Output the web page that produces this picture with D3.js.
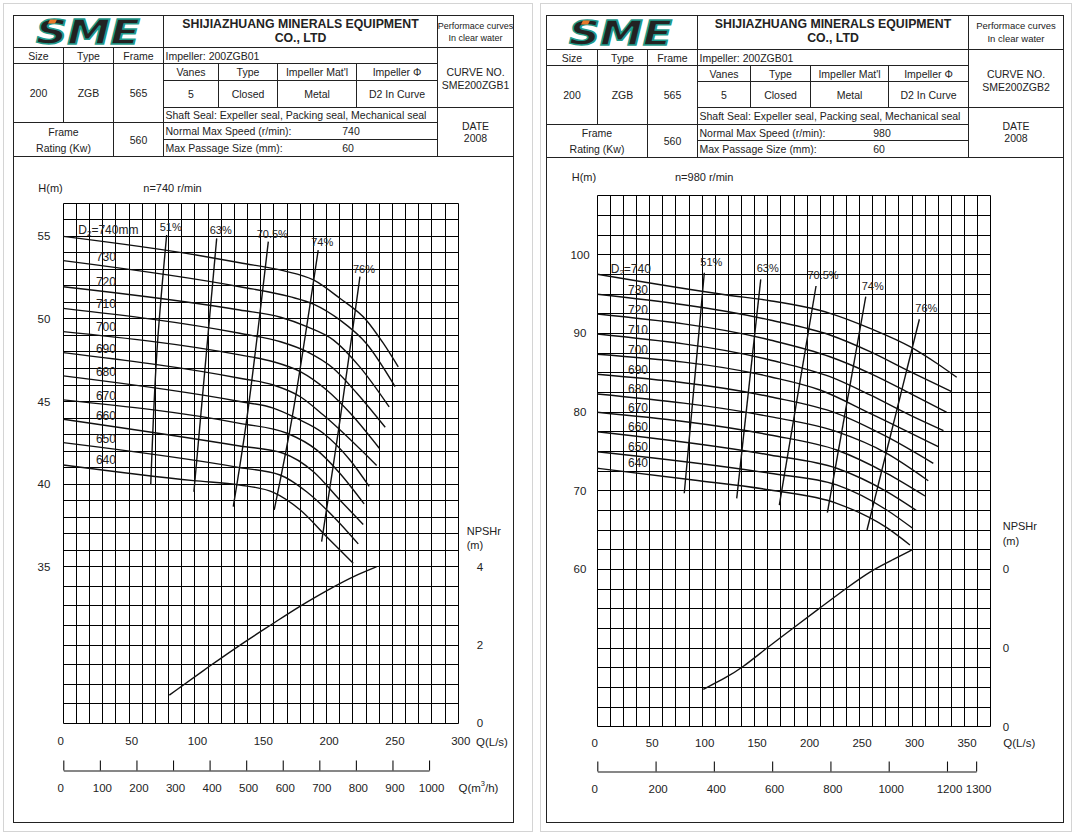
<!DOCTYPE html>
<html><head><meta charset="utf-8">
<script src="https://cdn.jsdelivr.net/npm/d3@7/dist/d3.min.js"></script>
<style>
html,body{margin:0;padding:0;background:#fff;}
svg{display:block;}
text{font-family:"Liberation Sans",Arial,Helvetica,sans-serif;fill:#222;}
</style></head><body>
<svg id="chart" width="1078" height="837"></svg>
<script>
// ---------------- header texts ----------------
const company = ["SHIJIAZHUANG MINERALS EQUIPMENT", "CO., LTD"];
const perfNote = ["Performace curves", "In clear water"];
const sizeHeads = ["Size", "Type", "Frame"];
const sizeVals = ["200", "ZGB", "565"];
const impellerId = "Impeller: 200ZGB01";
const impHeads = ["Vanes", "Type", "Impeller Mat'l", "Impeller \u03A6"];
const impVals = ["5", "Closed", "Metal", "D2 In Curve"];
const shaftSeal = "Shaft Seal: Expeller seal, Packing seal, Mechanical seal";
const frameRating = ["Frame", "Rating (Kw)"];
const frameRatingVal = "560";
const speedText = "Normal Max Speed (r/min):";
const passageText = "Max Passage Size (mm):";
const passageVal = "60";
const curveNos = ["SME200ZGB1", "SME200ZGB2"];
const speeds = ["740", "980"];
const dateVal = "2008";
const speedTitles = ["n=740 r/min", "n=980 r/min"];

// ---------------- shared ----------------
const diameters = [740, 730, 720, 710, 700, 690, 680, 670, 660, 650, 640];
const effLabels = ["51%", "63%", "70.5%", "74%", "76%"];

// ---------------- left chart (740 r/min) ----------------
const qTicksL = [0, 50, 100, 150, 200, 250, 300];
const qmTicksL = [0, 100, 200, 300, 400, 500, 600, 700, 800, 900, 1000];
const hTicksL = [35, 40, 45, 50, 55];
const npshTicksL = [0, 2, 4];
const npshTickLabelsL = ["0", "2", "4"];
const headCurvesL = [
  [[0,55],[101,53.87],[134,53.4],[167,52.92],[190,52.36],[210,51.25],[230,49.94],[243,48.53],[254.4,47.1]],
  [[0,53.53],[134,51.95],[172,51.35],[190,50.9],[210,49.94],[230,48.53],[252,45.9]],
  [[0,51.95],[134,50.54],[165,50.1],[185,49.53],[205,48.73],[225,47.11],[247.5,44.67]],
  [[0,50.64],[134,49.13],[165,48.62],[185,48.02],[205,47.01],[223,45.5],[238,44.08],[244.5,43.44]],
  [[0,49.23],[134,47.82],[159.5,47.41],[180,46.81],[200,45.7],[218,44.29],[240,42.17]],
  [[0,47.96],[134,46.41],[159.5,46.0],[180,45.29],[197.5,44.18],[238,41.13]],
  [[0,46.55],[134,45.0],[159.5,44.6],[177,43.99],[197.5,43.08],[217.7,41.46],[232.3,39.86]],
  [[0,45.1],[134,43.68],[170,43.08],[192.4,42.07],[210,40.66],[228.5,38.8]],
  [[0,43.93],[134,42.31],[167,41.87],[190,40.75],[210,39.04],[227.8,37.56]],
  [[0,42.51],[134,41.0],[164.6,40.55],[184.8,39.54],[207.6,37.83],[224,36.38]],
  [[0,41.16],[99,40.21],[134,39.95],[159.5,39.5],[180,38.43],[200,36.82],[220.2,35.21]]
];
const effLinesL = [
  [[78.5,55.08],[71,47.9],[66.4,39.95]],
  [[116.5,54.88],[99.2,39.54]],
  [[155.7,54.68],[139.3,43.9],[129.1,38.64]],
  [[193.6,54.17],[173.5,43.9],[160.2,38.44]],
  [[225.3,52.56],[210.2,43.9],[196.2,36.52]]
];
const npshL = [[80.5,0.72],[111.4,1.47],[136.7,2.06],[159.5,2.55],[179.7,3.0],[207.6,3.53],[220,3.75],[238,4.0]];

// ---------------- right chart (980 r/min) ----------------
const qTicksR = [0, 50, 100, 150, 200, 250, 300, 350];
const qmTicksR = [0, 200, 400, 600, 800, 1000, 1200, 1300];
const hTicksR = [60, 70, 80, 90, 100];
const npshTicksR = [0, 2, 4];
const npshTickLabelsR = ["0", "0", "0"];
const headCurvesR = [
  [[0,97.51],[123.4,94.88],[164.6,94.15],[221.8,92.55],[260,90.64],[298.1,88.31],[323.5,86.2],[342.6,84.42]],
  [[0,94.97],[164.6,91.7],[221.8,89.79],[260,87.67],[298.1,85.13],[337.8,82.59]],
  [[0,92.46],[164.6,89.16],[221.8,87.03],[260,84.92],[298.1,82.38],[333,79.97]],
  [[0,89.92],[164.6,86.62],[221.8,84.49],[260,82.17],[298.1,79.6],[330,77.63]],
  [[0,87.34],[164.6,84.49],[212.3,82.8],[260,79.84],[325,75.6]],
  [[0,84.8],[164.6,81.95],[228.2,79.84],[275.9,76.87],[320.3,73.48]],
  [[0,82.29],[164.6,79.41],[228.2,77.5],[275.9,74.75],[315.5,71.27]],
  [[0,79.97],[164.6,77.08],[228.2,75.17],[275.9,72.21],[312.4,69.33]],
  [[0,77.5],[164.6,74.54],[228.2,72.85],[275.9,69.88],[304,67.5]],
  [[0,74.96],[164.6,72.21],[228.2,70.73],[275.9,67.55],[300.6,65.22]],
  [[0,72.85],[91.5,71.36],[164.6,70.09],[228.2,68.4],[275.9,65.3],[298,63.1]]
];
const effLinesR = [
  [[102,97.71],[96.8,90.0],[82.9,69.67]],
  [[155.8,96.87],[132.9,69.03]],
  [[208.5,96.02],[173.5,68.18]],
  [[255.9,94.66],[219.3,67.2]],
  [[307,91.79],[257.1,65.0]]
];
const npshR = [[101,0.95],[123.4,1.26],[137.7,1.49],[161.5,2.0],[186.8,2.51],[212.3,3.02],[237.8,3.53],[261.6,3.98],[282.2,4.25],[300.3,4.5]];

// ---------------- drawing ----------------
const svg = d3.select("#chart");
svg.append("rect").attr("width", 1078).attr("height", 837).attr("fill", "#fff");
const snap = v => Math.round(v - 0.5) + 0.5;

function txt(g, s, x, y, o = {}) {
  return g.append("text").attr("x", x).attr("y", y)
    .attr("text-anchor", o.anchor || "middle")
    .attr("dominant-baseline", "central")
    .attr("font-size", o.size || 10.5)
    .attr("font-weight", o.bold ? "bold" : null)
    .attr("fill", o.fill || "#222")
    .text(s);
}

function interpH(pts, q) {
  for (let i = 0; i < pts.length - 1; i++) {
    const [q0, h0] = pts[i], [q1, h1] = pts[i + 1];
    if (q >= q0 && q <= q1) return h0 + (h1 - h0) * (q - q0) / (q1 - q0);
  }
  return pts[0][1];
}

function drawLogo(g, x, yb, w) {
  g.append("text").attr("x", x).attr("y", yb)
    .attr("font-size", 33).attr("font-weight", "bold").attr("font-style", "italic")
    .attr("textLength", w).attr("lengthAdjust", "spacingAndGlyphs")
    .attr("fill", "#1f9a8b").attr("stroke", "#1f9a8b").attr("stroke-width", 1.4)
    .style("font-family", "'DejaVu Sans', 'Liberation Sans', sans-serif")
    .text("SME");
  g.append("path")
    .attr("d", `M${x + 14},${yb - 24} l7,0 l-2,4 l-7,0 z`)
    .attr("fill", "#e8782a");
}

function drawPanel(c, idx) {
  const g = svg.append("g");
  g.append("rect").attr("x", c.card[0]).attr("y", c.card[1]).attr("width", c.card[2]).attr("height", c.card[3])
    .attr("fill", "none").attr("stroke", "#d4d4d4").attr("stroke-width", 1);
  const [x0, x1, x2, x3, x4, x5, x6, x7, x8] = c.cols.map(snap);
  const [y0, y1, y2, y3, y4, y5, y6, y7] = c.rows.map(snap);
  const lg = g.append("g").attr("stroke", "#222").attr("stroke-width", 1);
  const L = (a, b, cc, d) => lg.append("line").attr("x1", a).attr("y1", b).attr("x2", cc).attr("y2", d);
  lg.append("rect").attr("x", x0).attr("y", y0).attr("width", x8 - x0).attr("height", snap(c.frameBottom) - y0).attr("fill", "none");
  L(x0, y1, x8, y1); L(x0, y2, x7, y2); L(x3, y3, x7, y3); L(x3, y4, x8, y4);
  L(x0, y5, x7, y5); L(x3, y6, x7, y6); L(x0, y7, x8, y7);
  L(x1, y1, x1, y5); L(x2, y1, x2, y7); L(x3, y0, x3, y7);
  L(x4, y2, x4, y4); L(x5, y2, x5, y4); L(x6, y2, x6, y4); L(x7, y0, x7, y7);

  drawLogo(g, c.logo[0], c.logo[1], c.logo[2]);
  const tc = (x3 + x7) / 2;
  txt(g, company[0], tc, y0 + 8, { size: 12.3, bold: true });
  txt(g, company[1], tc, y0 + 22.5, { size: 12.3, bold: true });
  const pc = (x7 + x8) / 2;
  txt(g, perfNote[0], pc, y0 + 10, { size: c.perfSize });
  txt(g, perfNote[1], pc, y0 + 22.5, { size: c.perfSize });
  [x0, x1, x2].forEach((xx, i) => {
    const nx = [x1, x2, x3][i];
    txt(g, sizeHeads[i], (xx + nx) / 2, (y1 + y2) / 2);
    txt(g, sizeVals[i], (xx + nx) / 2, (y2 + y5) / 2);
  });
  txt(g, impellerId, x3 + 2, (y1 + y2) / 2, { anchor: "start" });
  [x3, x4, x5, x6].forEach((xx, i) => {
    const nx = [x4, x5, x6, x7][i];
    txt(g, impHeads[i], (xx + nx) / 2, (y2 + y3) / 2);
    txt(g, impVals[i], (xx + nx) / 2, (y3 + y4) / 2);
  });
  txt(g, shaftSeal, x3 + 2, (y4 + y5) / 2, { anchor: "start", size: 10.5 });
  txt(g, frameRating[0], (x0 + x2) / 2, (y5 + y7) / 2 - 8);
  txt(g, frameRating[1], (x0 + x2) / 2, (y5 + y7) / 2 + 8);
  txt(g, frameRatingVal, (x2 + x3) / 2, (y5 + y7) / 2);
  txt(g, speedText, x3 + 2, (y5 + y6) / 2, { anchor: "start" });
  txt(g, speeds[idx], c.valX, (y5 + y6) / 2);
  txt(g, passageText, x3 + 2, (y6 + y7) / 2, { anchor: "start" });
  txt(g, passageVal, c.valX - 3, (y6 + y7) / 2);
  txt(g, "CURVE NO.", pc, y1 + 24, { size: 10.5 });
  txt(g, curveNos[idx], pc, y1 + 37, { size: 10.5 });
  txt(g, "DATE", pc, y4 + 18, { size: 10.5 });
  txt(g, dateVal, pc, y4 + 30.5, { size: 10.5 });

  // ---------- chart ----------
  const x = c.x, h = c.h, n = c.n;
  const grid = g.append("g").attr("stroke", "#000").attr("stroke-width", 1);
  const [px0, px1] = x.range().map(snap);
  const yT = snap(c.yTop), yB = snap(c.yBot);
  c.vGrid.forEach(v => grid.append("line").attr("x1", snap(x(v))).attr("x2", snap(x(v))).attr("y1", yT).attr("y2", yB));
  c.hGridH.forEach(v => grid.append("line").attr("x1", px0).attr("x2", px1).attr("y1", snap(h(v))).attr("y2", snap(h(v))));
  c.hGridN.forEach(v => grid.append("line").attr("x1", px0).attr("x2", px1).attr("y1", snap(n(v))).attr("y2", snap(n(v))));

  const lineH = d3.line().x(d => x(d[0])).y(d => h(d[1])).curve(d3.curveMonotoneX);
  const lineE = d3.line().x(d => x(d[0])).y(d => h(d[1])).curve(d3.curveCatmullRom.alpha(0.5));
  const lineN = d3.line().x(d => x(d[0])).y(d => n(d[1])).curve(d3.curveBasis);
  const cg = g.append("g").attr("fill", "none").attr("stroke", "#111").attr("stroke-width", 1.4);
  cg.selectAll("path.head").data(c.curves).join("path").attr("class", "head").attr("d", lineH);
  cg.selectAll("path.eff").data(c.eff).join("path").attr("class", "eff").attr("d", lineE);
  cg.append("path").datum(c.npsh).attr("d", lineN);

  // diameter labels
  c.curves.forEach((pts, i) => {
    const yy = h(interpH(pts, c.labelQ)) - 10;
    if (i === 0) {
      const t = g.append("text").attr("x", x(c.d2Q)).attr("y", h(interpH(pts, c.d2Q + 18)) - c.d2Lift)
        .attr("dominant-baseline", "central").attr("font-size", 12).attr("fill", "#333");
      t.append("tspan").text("D");
      t.append("tspan").attr("font-size", 8).attr("dy", 3).text("2");
      t.append("tspan").attr("dy", -3).text("=" + diameters[i] + c.d2Unit);
    } else {
      txt(g, String(diameters[i]), x(c.labelQ), yy, { size: 12, fill: "#333" });
    }
  });
  // efficiency labels
  c.eff.forEach((pts, i) => {
    txt(g, effLabels[i], x(pts[0][0]) + c.effDx, h(pts[0][1]) + c.effDy, { size: 11, fill: "#333" });
  });

  // Q (L/s) axis labels
  const ax = g.append("g").attr("transform", `translate(0,${c.yBot})`)
    .call(d3.axisBottom(x).tickValues(c.qTicks).tickSize(0).tickPadding(c.qPad).tickFormat(d3.format("d")));
  ax.select(".domain").remove();
  ax.selectAll("text").attr("font-size", 11.5).attr("fill", "#222")
    .style("font-family", "'Liberation Sans', Arial, sans-serif")
    .attr("dx", d => d === 0 ? -3 : 2);
  txt(g, "Q(L/s)", c.qLabel[0], c.qLabel[1], { anchor: "start", size: 11.5 });

  // Q (m3/h) axis
  const am = g.append("g").attr("transform", `translate(0,${snap(c.qmY)})`)
    .call(d3.axisBottom(c.xm).tickValues(c.qmTicks).tickSizeInner(-10).tickSizeOuter(0).tickPadding(13).tickFormat(d3.format("d")));
  am.selectAll("line,path").attr("stroke", "#111").attr("stroke-width", 1.1);
  am.selectAll("text").attr("font-size", 11.5).attr("fill", "#222")
    .style("font-family", "'Liberation Sans', Arial, sans-serif")
    .attr("dx", d => d === 0 ? -3 : 2);
  if (c.qmLabel) {
    const t = g.append("text").attr("x", c.qmLabel[0]).attr("y", c.qmLabel[1])
      .attr("dominant-baseline", "central").attr("font-size", 11.5);
    t.append("tspan").text("Q(m");
    t.append("tspan").attr("font-size", 7.5).attr("dy", -5).text("3");
    t.append("tspan").attr("dy", 5).text("/h)");
  }

  // H axis labels
  c.hTicks.forEach(v => txt(g, String(v), c.hLabelX, h(v), { size: 11.5 }));
  txt(g, "H(m)", c.hTitle[0], c.hTitle[1], { anchor: "start", size: 11 });
  txt(g, speedTitles[idx], c.nTitle[0], c.hTitle[1], { anchor: "start", size: 11 });

  // NPSH labels
  c.nTicks.forEach((v, i) => txt(g, c.nTickLabels[i], c.nLabelX, n(v), { size: 11.5 }));
  txt(g, "NPSHr", c.npshTitle[0], c.npshTitle[1], { anchor: "start", size: 11 });
  txt(g, "(m)", c.npshTitle[0], c.npshTitle[1] + 14.5, { anchor: "start", size: 11 });
}

// ----- scales / layout -----
const xL = d3.scaleLinear().domain([0, 300]).range([63.3, 458.3]);
const hL = d3.scaleLinear().domain([35, 57]).range([566.7, 203.3]);
const nL = d3.scaleLinear().domain([0, 4]).range([723.3, 566.7]);
const xmL = d3.scaleLinear().domain([0, 1000]).range([xL(0), xL(1000 / 3.6)]);

const xR = d3.scaleLinear().domain([0, 375]).range([597.3, 990.7]);
const hR = d3.scaleLinear().domain([40, 107.5]).range([726.7, 195.7]);
const nR = d3.scaleLinear().domain([0, 4]).range([726.7, hR(60)]);
const xmR = d3.scaleLinear().domain([0, 1300]).range([xR(0), xR(1300 / 3.6)]);

drawPanel({
  card: [3.5, 3.5, 529, 828],
  cols: [13.5, 63, 113, 163, 218, 277, 356, 437, 513.5],
  rows: [15, 47.3, 63.3, 80, 107.3, 122.7, 139.3, 156],
  frameBottom: 822, perfSize: 9,
  logo: [36, 43.5, 104], valX: 351,
  x: xL, h: hL, n: nL, xm: xmL,
  yTop: 203.3, yBot: 723.3,
  vGrid: d3.range(0, 300.1, 10), hGridH: d3.range(35, 57.1, 1), hGridN: d3.range(0, 3.9, 0.5),
  curves: headCurvesL, eff: effLinesL, npsh: npshL,
  labelQ: 32.4, d2Q: 11.4, d2Lift: 12, d2Unit: "mm", effDx: 4, effDy: -8,
  qTicks: qTicksL, qPad: 14, qLabel: [476, 742],
  qmTicks: qmTicksL, qmY: 770, qmLabel: [458.5, 788.3],
  hTicks: hTicksL, hLabelX: 44, hTitle: [38.3, 188.3], nTitle: [143.3],
  nTicks: npshTicksL, nTickLabels: npshTickLabelsL, nLabelX: 480, npshTitle: [466.7, 530.7]
}, 0);

drawPanel({
  card: [540.5, 3.5, 531, 828],
  cols: [546, 597.4, 647.9, 697.6, 750.8, 810.2, 888, 968, 1063],
  rows: [15, 49.3, 65, 81.7, 107.3, 124, 140.7, 157],
  frameBottom: 822, perfSize: 9.5,
  logo: [569, 44.5, 103], valX: 882,
  x: xR, h: hR, n: nR, xm: xmR,
  yTop: 195.7, yBot: 726.7,
  vGrid: d3.range(0, 375.1, 12.5), hGridH: d3.range(40, 107.6, 2.5), hGridN: [],
  curves: headCurvesR, eff: effLinesR, npsh: npshR,
  labelQ: 38.8, d2Q: 12.8, d2Lift: 10, d2Unit: "", effDx: 7, effDy: -11,
  qTicks: qTicksR, qPad: 12, qLabel: [1003.3, 743.3],
  qmTicks: qmTicksR, qmY: 771, qmLabel: null,
  hTicks: hTicksR, hLabelX: 580, hTitle: [571.7, 177.3], nTitle: [675],
  nTicks: npshTicksR, nTickLabels: npshTickLabelsR, nLabelX: 1006, npshTitle: [1002.7, 526]
}, 1);
</script>
</body></html>
